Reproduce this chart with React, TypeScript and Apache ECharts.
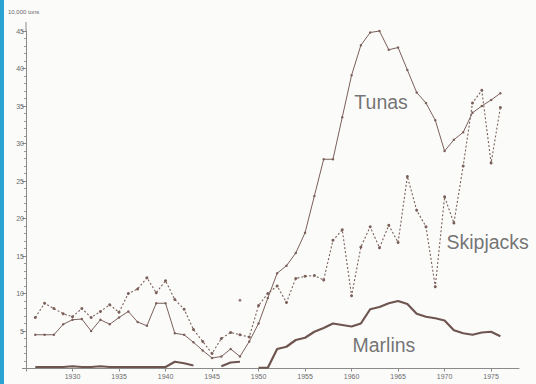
import React, { useEffect, useRef } from "react";
import * as echarts from "echarts";

const years = [
  1926, 1927, 1928, 1929, 1930, 1931, 1932, 1933, 1934, 1935, 1936, 1937, 1938, 1939, 1940,
  1941, 1942, 1943, 1944, 1945, 1946, 1947, 1948, 1949, 1950, 1951, 1952, 1953, 1954, 1955,
  1956, 1957, 1958, 1959, 1960, 1961, 1962, 1963, 1964, 1965, 1966, 1967, 1968, 1969, 1970,
  1971, 1972, 1973, 1974, 1975, 1976,
];

const tunas = [
  4.5, 4.5, 4.5, 5.9, 6.5, 6.6, 5.0, 6.5, 5.9, 6.8, 7.6, 6.2, 5.7, 8.7, 8.7,
  4.7, 4.5, 3.5, 2.4, 1.4, 1.6, 2.6, 1.6, 3.6, 6.0, 9.4, 12.7, 13.7, 15.4, 18.1,
  23.0, 27.9, 27.9, 33.5, 39.1, 43.1, 44.8, 45.0, 42.5, 42.8, 39.8, 36.8, 35.4, 33.1, 29.0,
  30.5, 31.5, 34.1, 35.0, 35.8, 36.7,
];

const skipjacks = [
  6.8, 8.7, 8.0, 7.3, 6.9, 8.0, 6.8, 7.6, 8.5, 7.5, 10.0, 10.6, 12.1, 10.1, 11.7,
  9.2, 7.9, 5.2, 3.6, 2.0, 4.0, 4.8, 4.5, 4.2, 8.4, 10.0, 11.0, 8.8, 12.0, 12.3,
  12.4, 11.8, 17.1, 18.5, 9.7, 16.2, 18.9, 16.1, 19.1, 16.8, 25.6, 21.1, 18.9, 10.9, 22.9,
  19.4, 27.0, 35.4, 37.1, 27.4, 34.8,
];

const skipjackExtraYear = [1948];
const skipjackExtraValue = [9.1];

const marlins: (number | null)[] = [
  0.2, 0.2, 0.2, 0.2, 0.3, 0.2, 0.2, 0.3, 0.2, 0.2, 0.2, 0.2, 0.2, 0.2, 0.2,
  0.9, 0.7, 0.4, null, null, 0.3, 0.8, 0.9, null, 0.1, 0.1, 2.6, 2.9, 3.8, 4.1,
  4.9, 5.4, 6.0, 5.8, 5.6, 6.0, 7.9, 8.2, 8.7, 9.0, 8.6, 7.3, 6.9, 6.7, 6.4,
  5.1, 4.7, 4.5, 4.8, 4.9, 4.3,
];

const seriesLabels = [
  { name: "Tunas", year: 1960.3, value: 35.6 },
  { name: "Skipjacks", year: 1970.2, value: 16.9 },
  { name: "Marlins", year: 1960.1, value: 3.2 },
];

const unitLabel = "10,000 tons";

const LINE = "#7b605a";

export default function App() {
  const ref = useRef<HTMLDivElement>(null);

  useEffect(() => {
    if (!ref.current) return;
    const chart = echarts.init(ref.current, undefined, { renderer: "svg" });
    const pair = (arr: (number | null)[]) => years.map((y, i) => [y, arr[i]]);

    const grid = { left: 26, right: 17, top: 31, bottom: 15.5 };
    const option: any = {
      animation: false,
      backgroundColor: "#fbfbfa",
      grid,
      xAxis: {
        type: "value",
        min: 1925,
        max: 1978,
        interval: 5,
        axisLine: { show: true, lineStyle: { color: "#8a8a8a", width: 1 } },
        axisTick: { show: true, length: 3, lineStyle: { color: "#8a8a8a" } },
        axisLabel: {
          showMaxLabel: false,
          fontSize: 7,
          color: "#6a6a6a",
          margin: 4,
          fontFamily: "Liberation Sans",
          formatter: (v: number) => (v === 1925 || v === 1978 ? "" : String(v)),
        },
        splitLine: { show: false },
      },
      yAxis: {
        type: "value",
        min: 0,
        max: 45,
        interval: 5,
        axisLine: { show: true, lineStyle: { color: "#8a8a8a", width: 1 } },
        axisTick: { show: true, length: 4, lineStyle: { color: "#8a8a8a" } },
        minorTick: { show: true, splitNumber: 5, length: 2, lineStyle: { color: "#9a9a9a" } },
        axisLabel: {
          fontSize: 7,
          color: "#6a6a6a",
          margin: 2,
          fontFamily: "Liberation Sans",
          formatter: (v: number) => (v === 0 ? "" : String(v)),
        },
        splitLine: { show: false },
      },
      graphic: [
        { type: "rect", shape: { x: 0, y: 0, width: 4, height: 384 }, style: { fill: "#2ba3d3" } },
        {
          type: "line",
          shape: { x1: 26, y1: 22, x2: 26, y2: 31 },
          style: { stroke: "#8a8a8a", lineWidth: 1 },
        },
        {
          type: "text",
          x: 8,
          y: 12,
          style: {
            text: unitLabel,
            fontSize: 6,
            fill: "#6a6a6a",
            fontFamily: "Liberation Sans",
            verticalAlign: "middle",
          },
        },
      ],
      series: [
        {
          name: "Tunas",
          type: "line",
          data: pair(tunas),
          symbol: "circle",
          symbolSize: 2.5,
          itemStyle: { color: LINE },
          lineStyle: { color: LINE, width: 1 },
          clip: false,
        },
        {
          name: "Skipjacks",
          type: "line",
          data: pair(skipjacks),
          symbol: "circle",
          symbolSize: 3,
          itemStyle: { color: LINE },
          lineStyle: { color: LINE, width: 1.1, type: [2, 2] },
          clip: false,
        },
        {
          name: "Skipjacks extra",
          type: "scatter",
          data: skipjackExtraYear.map((y, i) => [y, skipjackExtraValue[i]]),
          symbol: "circle",
          symbolSize: 3,
          itemStyle: { color: LINE },
        },
        {
          name: "Marlins",
          type: "line",
          data: pair(marlins),
          showSymbol: false,
          symbol: "none",
          connectNulls: false,
          lineStyle: { color: "#6f5550", width: 2.2 },
          clip: false,
        },
        {
          name: "labels",
          type: "scatter",
          symbolSize: 0,
          data: seriesLabels.map((l) => ({ value: [l.year, l.value], name: l.name })),
          label: {
            show: true,
            position: "right",
            distance: 0,
            formatter: (p: any) => p.name,
            fontSize: 19.5,
            color: "#505050",
            fontFamily: "Liberation Sans",
          },
          silent: true,
        },
      ],
    };
    chart.setOption(option);
    return () => chart.dispose();
  }, []);

  return (
    <div
      ref={ref}
      style={{ position: "absolute", left: 0, top: 0, width: 536, height: 384 }}
    />
  );
}
